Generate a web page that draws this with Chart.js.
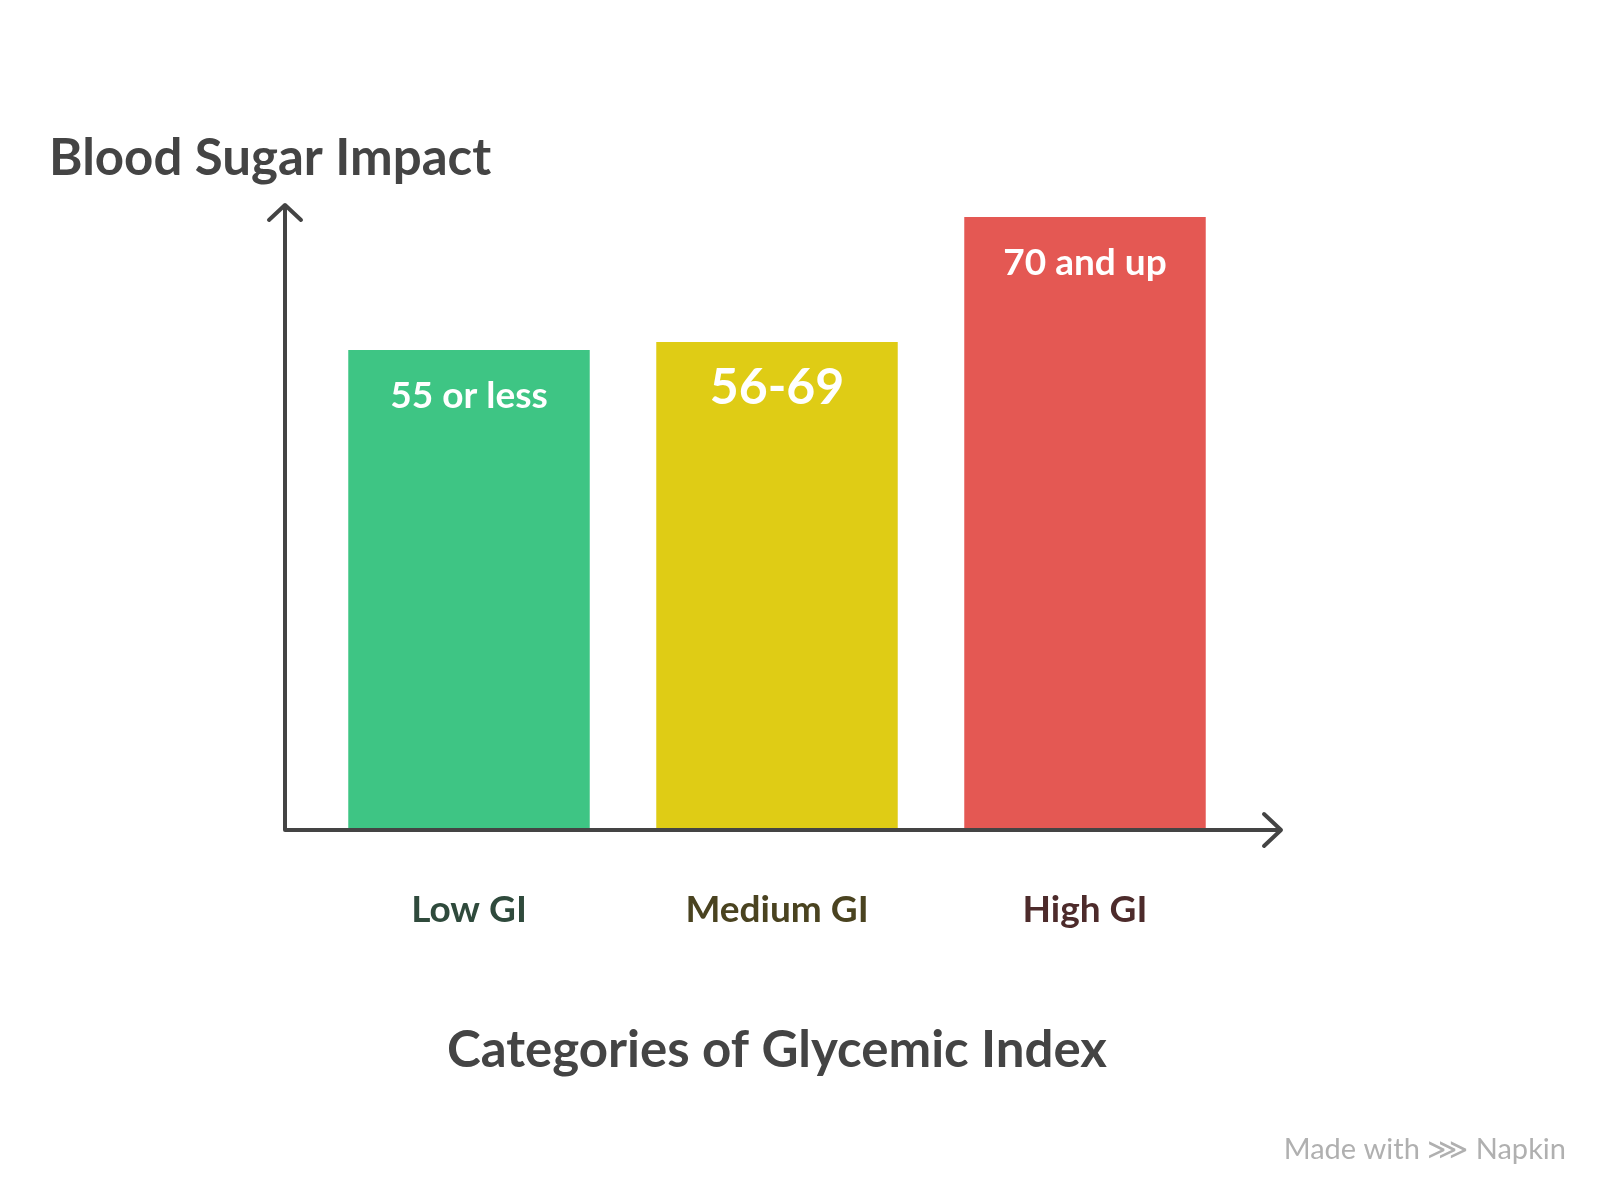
<!DOCTYPE html>
<html>
<head>
<meta charset="utf-8">
<script src="https://cdn.jsdelivr.net/npm/chart.js@4"></script>
<style>
  body { margin: 0; background: #fff; }
</style>
</head>
<body>
<canvas id="chart" width="1600" height="1200"></canvas>
<script>
// dane
const categories = ["Low GI", "Medium GI", "High GI"];
const impact = [48, 48.8, 61.3];
const rangeLabels = ["55 or less", "56-69", "70 and up"];
const barColors = ["#3EC584", "#DFCC15", "#E45853"];
const catColors = ["#2F4A3C", "#4A4320", "#4D2B2B"];

const FONT = "Lato, 'Open Sans', sans-serif";
const AXIS = "#444444";

// osie, strzałki i napisy rysowane ręcznie
const overlay = {
  id: "overlay",
  afterDatasetsDraw(chart) {
    const ctx = chart.ctx;
    const x = chart.scales.x, y = chart.scales.y;
    const x0 = 285, y0 = y.getPixelForValue(0);
    ctx.save();
    ctx.strokeStyle = AXIS;
    ctx.lineWidth = 4;
    ctx.lineCap = "round";
    ctx.lineJoin = "round";
    ctx.beginPath();
    ctx.moveTo(x0, y0); ctx.lineTo(x0, 206);
    ctx.moveTo(x0 - 16, 220); ctx.lineTo(x0, 205); ctx.lineTo(x0 + 16, 220);
    ctx.moveTo(x0, y0); ctx.lineTo(1280, y0);
    ctx.moveTo(1264, y0 - 16); ctx.lineTo(1281, y0); ctx.lineTo(1264, y0 + 16);
    ctx.stroke();

    ctx.textAlign = "center";
    ctx.textBaseline = "middle";
    categories.forEach((c, i) => {
      const cx = x.getPixelForValue(i);
      const top = y.getPixelForValue(impact[i]);
      ctx.fillStyle = "#ffffff";
      ctx.font = (i === 1 ? "bold 50px " : "bold 37px ") + FONT;
      ctx.fillText(rangeLabels[i], cx, top + 46);
      ctx.fillStyle = catColors[i];
      ctx.font = "bold 37px " + FONT;
      ctx.fillText(c, cx, 910);
    });

    ctx.fillStyle = "#444444";
    ctx.font = "bold 51px " + FONT;
    ctx.textAlign = "left";
    ctx.fillText("Blood Sugar Impact", 49, 159);
    ctx.textAlign = "center";
    ctx.fillText("Categories of Glycemic Index", 777, 1051);

    ctx.fillStyle = "#b0b0b0";
    ctx.font = "29px " + FONT;
    ctx.textAlign = "right";
    ctx.fillText("Made with ⋙ Napkin", 1566, 1150);
    ctx.restore();
  }
};

new Chart(document.getElementById("chart"), {
  type: "bar",
  data: {
    labels: categories,
    datasets: [{ data: impact, backgroundColor: barColors, borderWidth: 0 }]
  },
  options: {
    responsive: false,
    animation: false,
    layout: { padding: { left: 315, right: 361, top: 204, bottom: 370 } },
    datasets: { bar: { categoryPercentage: 1, barPercentage: 0.784 } },
    scales: {
      x: { display: false },
      y: { display: false, min: 0, max: 62.6 }
    },
    plugins: { legend: { display: false }, tooltip: { enabled: false } }
  },
  plugins: [overlay]
});
</script>
</body>
</html>
